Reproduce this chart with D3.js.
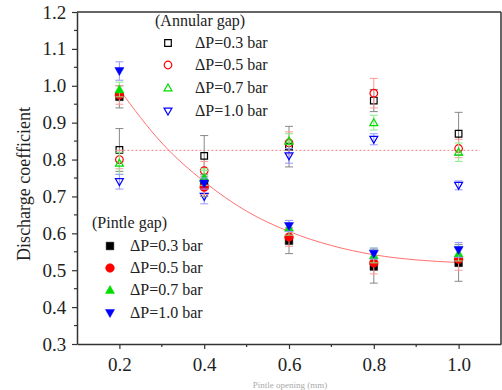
<!DOCTYPE html>
<html><head><meta charset="utf-8">
<script src="https://cdn.jsdelivr.net/npm/d3@7"></script>
<style>body{margin:0;background:#fff}svg{display:block}
svg text{font-family:"Liberation Serif","Times New Roman","DejaVu Serif",serif !important}</style>
</head><body><svg id="c" width="502" height="390"></svg>
<script>
const xs = [0.2, 0.4, 0.6, 0.8, 1.0];
const pressures = ["ΔP=0.3 bar", "ΔP=0.5 bar", "ΔP=0.7 bar", "ΔP=1.0 bar"];
// Annular gap (open symbols)
const annular03 = [0.826, 0.81, 0.835, 0.96, 0.87];
const annular05 = [0.80, 0.77, 0.845, 0.98, 0.83];
const annular07 = [0.79, 0.75, 0.85, 0.90, 0.82];
const annular10 = [0.74, 0.70, 0.81, 0.855, 0.73];
const annularErr03 = [0.058, 0.055, 0.055, 0.03, 0.058];
const annularErr05 = [0.025, 0.025, 0.03, 0.04, 0.025];
const annularErr07 = [0.03, 0.025, 0.02, 0.02, 0.025];
const annularErr10 = [0.02, 0.02, 0.02, 0.015, 0.012];
// Pintle gap (filled symbols)
const pintle03 = [0.97, 0.73, 0.58, 0.51, 0.52];
const pintle05 = [0.975, 0.725, 0.59, 0.52, 0.53];
const pintle07 = [0.99, 0.75, 0.615, 0.54, 0.545];
const pintle10 = [1.04, 0.735, 0.62, 0.545, 0.555];
const pintleErr03 = [0.03, 0.03, 0.035, 0.045, 0.05];
const pintleErr05 = [0.025, 0.02, 0.025, 0.03, 0.03];
const pintleErr07 = [0.02, 0.02, 0.02, 0.02, 0.02];
const pintleErr10 = [0.025, 0.015, 0.015, 0.015, 0.02];
// fitted curve and mean line
const fitX = [0.2, 0.3, 0.4, 0.5, 0.6, 0.7, 0.8, 0.9, 1.0];
const fitY = [0.99, 0.845, 0.74, 0.66, 0.605, 0.567, 0.542, 0.528, 0.521];
const meanLine = {x0: 0.2, x1: 1.05, y: 0.825};
const xTicks = [0.2, 0.4, 0.6, 0.8, 1.0];
const yTicks = [0.3, 0.4, 0.5, 0.6, 0.7, 0.8, 0.9, 1.0, 1.1, 1.2];

const colors = ["#000000", "#ff0000", "#00dd00", "#0000ff"];
const errColors = ["#888888", "#ff9999", "#88ee88", "#9999ff"];
const shapes = ["square", "circle", "up", "down"];

const svg = d3.select("#c");
const x = d3.scaleLinear().domain([0.1, 1.1]).range([77, 501]);
const y = d3.scaleLinear().domain([0.3, 1.2]).range([344, 12]);

function symbolPath(shape, s) {
  if (shape === "square") return `M${-s},${-s}H${s}V${s}H${-s}Z`;
  if (shape === "circle") return d3.arc()({innerRadius:0, outerRadius:s*1.15, startAngle:0, endAngle:2*Math.PI});
  const h = s * 1.2;
  if (shape === "up") return `M0,${-h}L${h},${h*0.75}L${-h},${h*0.75}Z`;
  return `M0,${h}L${h},${-h*0.75}L${-h},${-h*0.75}Z`;
}

// mean dotted line
svg.append("line").attr("x1", x(meanLine.x0)).attr("x2", x(meanLine.x1))
  .attr("y1", y(meanLine.y)).attr("y2", y(meanLine.y))
  .attr("stroke", "#f08080").attr("stroke-width", 1).attr("stroke-dasharray", "2,2");

// fit curve
svg.append("path").datum(fitX.map((v, i) => [v, fitY[i]]))
  .attr("d", d3.line().x(d => x(d[0])).y(d => y(d[1])).curve(d3.curveMonotoneX))
  .attr("fill", "none").attr("stroke", "#ff7070").attr("stroke-width", 1);

const annular = [annular03, annular05, annular07, annular10];
const annularErr = [annularErr03, annularErr05, annularErr07, annularErr10];
const pintle = [pintle03, pintle05, pintle07, pintle10];
const pintleErr = [pintleErr03, pintleErr05, pintleErr07, pintleErr10];

function drawSeries(vals, errs, i, filled) {
  const g = svg.append("g");
  xs.forEach((xv, j) => {
    const cx = x(xv), v = vals[j], e = errs[j];
    g.append("line").attr("x1", cx).attr("x2", cx).attr("y1", y(v + e)).attr("y2", y(v - e))
      .attr("stroke", errColors[i]).attr("stroke-width", 1);
    [v + e, v - e].forEach(t => g.append("line").attr("x1", cx - 4).attr("x2", cx + 4)
      .attr("y1", y(t)).attr("y2", y(t)).attr("stroke", errColors[i]).attr("stroke-width", 1));
  });
  xs.forEach((xv, j) => {
    g.append("path").attr("d", symbolPath(shapes[i], filled ? 3.8 : 3.3))
      .attr("transform", `translate(${x(xv)},${y(vals[j])})`)
      .attr("fill", filled ? colors[i] : "none")
      .attr("stroke", colors[i]).attr("stroke-width", filled ? 0.5 : 1.2);
  });
}
[0,1,2,3].forEach(i => drawSeries(annular[i], annularErr[i], i, false));
[0,1,2,3].forEach(i => drawSeries(pintle[i], pintleErr[i], i, true));

// axes
const xAxis = d3.axisBottom(x).tickValues(xTicks).tickFormat(d3.format(".1f")).tickSize(5).tickSizeOuter(0);
const gx = svg.append("g").attr("transform", "translate(0,344)").call(xAxis);
const yAxis = d3.axisLeft(y).tickValues(yTicks).tickFormat(d3.format(".1f")).tickSize(5).tickSizeOuter(0);
const gy = svg.append("g").attr("transform", "translate(77,0)").call(yAxis);
[gx, gy].forEach(g => {
  g.selectAll("path.domain").attr("stroke", "#333").attr("stroke-width", 1.5);
  g.selectAll(".tick line").attr("stroke", "#333").attr("stroke-width", 1.2);
  g.selectAll("text").attr("font-size", 19).attr("fill", "#222");
});
gx.selectAll("text").attr("dy", "1.0em");
gy.selectAll("text").attr("dx", "-0.15em");
// minor ticks
const xMinor = d3.range(0.3, 1.1, 0.2);
gx.selectAll("line.minor").data(xMinor).join("line").attr("class", "minor")
  .attr("x1", d => x(d)).attr("x2", d => x(d)).attr("y1", 0).attr("y2", 3)
  .attr("stroke", "#333").attr("stroke-width", 1.2);
const yMinor = d3.range(0.35, 1.2, 0.1);
gy.selectAll("line.minor").data(yMinor).join("line").attr("class", "minor")
  .attr("y1", d => y(d)).attr("y2", d => y(d)).attr("x1", 0).attr("x2", -3)
  .attr("stroke", "#333").attr("stroke-width", 1.2);
// top and right frame
svg.append("line").attr("x1", 77).attr("x2", 501).attr("y1", 12).attr("y2", 12).attr("stroke", "#333").attr("stroke-width", 1.5);
svg.append("line").attr("x1", 501).attr("x2", 501).attr("y1", 12).attr("y2", 344).attr("stroke", "#333").attr("stroke-width", 1.5);

// axis labels
svg.append("text").attr("transform", `translate(30,${(12+344)/2 + 6}) rotate(-90)`)
  .attr("text-anchor", "middle").attr("font-size", 18).attr("fill", "#222")
  .text("Discharge coefficient");
svg.append("text").attr("x", 290).attr("y", 388).attr("text-anchor", "middle")
  .attr("font-size", 9).attr("fill", "#aaa")
  .text("Pintle opening (mm)");

// legends
function legend(title, tx, ty, symX, textX, rowY, filled) {
  svg.append("text").attr("x", tx).attr("y", ty).attr("font-size", 16)
    .attr("fill", "#222").text(title);
  pressures.forEach((p, i) => {
    svg.append("path").attr("d", symbolPath(shapes[i], filled ? 3.8 : 3.3))
      .attr("transform", `translate(${symX},${rowY[i]})`)
      .attr("fill", filled ? colors[i] : "none").attr("stroke", colors[i]).attr("stroke-width", filled ? 0.5 : 1.2);
    svg.append("text").attr("x", textX).attr("y", rowY[i] + 5).attr("font-size", 16)
      .attr("fill", "#222").text(p);
  });
}
legend("(Annular gap)", 155, 26, 168, 195, [43, 65, 88, 111], false);
legend("(Pintle gap)", 92, 228, 110, 130, [246, 268, 290, 313], true);
</script></body></html>
